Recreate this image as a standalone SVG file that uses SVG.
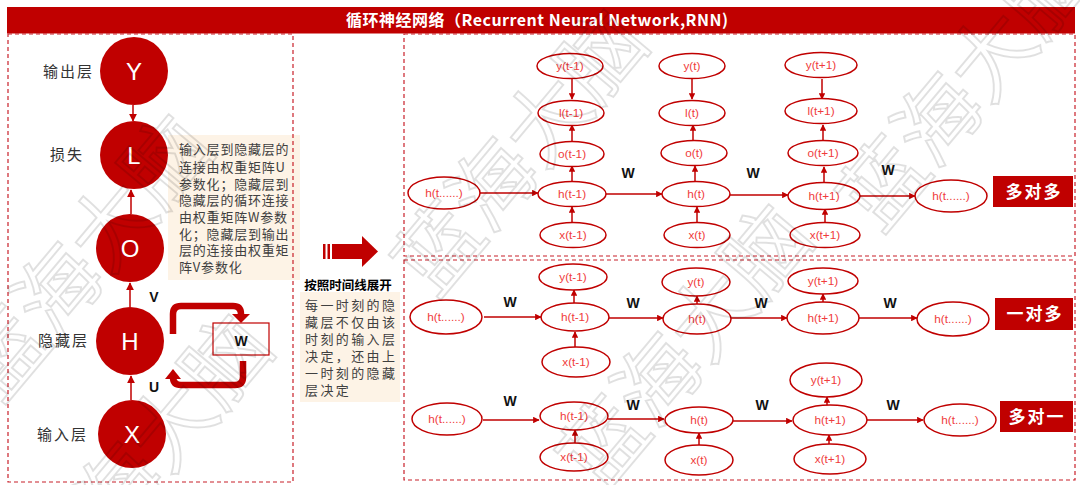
<svg xmlns="http://www.w3.org/2000/svg" width="1080" height="485" viewBox="0 0 1080 485">
<defs>
<style>
.frame{fill:none;stroke:#c8202a;stroke-width:1.2;stroke-dasharray:4 3}
.circ{fill:#c00000}
.cl{fill:#fff;font-family:"Liberation Sans",Arial,sans-serif;font-size:24px;text-anchor:middle}
.lbl{fill:#333;font-family:"Noto Sans CJK SC",sans-serif;font-size:15px;letter-spacing:2px}
.para{fill:#404040;font-family:"Noto Sans CJK SC",sans-serif;font-size:13px}
.el{fill:#fff;stroke:#c00000;stroke-width:1.5}
.et{fill:#f03c3c;font-family:"Liberation Sans",Arial,sans-serif;font-size:11.8px;text-anchor:middle}
.w{fill:#111;font-family:"Liberation Sans",Arial,sans-serif;font-size:14px;font-weight:bold;text-anchor:middle}
.ln{stroke:#c00000;stroke-width:1.5;fill:none}
.tag{fill:#c00000}
.tt{fill:#fff;font-family:"Noto Sans CJK SC",sans-serif;font-size:17px;font-weight:bold;text-anchor:middle;letter-spacing:2px}
.thick{fill:none;stroke:#c00000;stroke-width:6.5}
.wm{fill:none;stroke:#000;stroke-opacity:0.12;stroke-width:2;font-family:"Noto Sans CJK SC",sans-serif;font-size:84px}
</style>
<marker id="ah" viewBox="0 0 10 10" refX="9" refY="5" markerWidth="6.5" markerHeight="6.5" orient="auto" markerUnits="userSpaceOnUse">
<path d="M0,0 L10,5 L0,10 z" fill="#c00000"/>
</marker>
<marker id="ah2" viewBox="0 0 10 10" refX="9" refY="5" markerWidth="8" markerHeight="8" orient="auto" markerUnits="userSpaceOnUse">
<path d="M0,0 L10,5 L0,10 z" fill="#c00000"/>
</marker>
</defs>
<rect width="1080" height="485" fill="#fff"/>

<g id="title">
<rect x="7" y="7" width="1068" height="26.5" fill="#c00000"/>
<text x="537" y="26" fill="#fff" font-family="'Noto Sans CJK SC',sans-serif" font-size="16" font-weight="bold" text-anchor="middle" textLength="382">循环神经网络（Recurrent Neural Network,RNN)</text>
</g>

<rect x="168" y="135" width="132" height="145" fill="#fdf3e6"/>
<rect x="300" y="292" width="100" height="110" fill="#fdf3e6"/>

<g id="frames">
<rect class="frame" x="8" y="34" width="285" height="448"/>
<rect class="frame" x="404" y="34" width="671" height="222"/>
<rect class="frame" x="404" y="260" width="671" height="220"/>
</g>

<g id="left-connectors">
<line class="ln" x1="133" y1="105" x2="133" y2="121" marker-end="url(#ah2)"/>
<line class="ln" x1="131" y1="214" x2="131" y2="190" marker-end="url(#ah2)"/>
<line class="ln" x1="130" y1="307" x2="130" y2="283" marker-end="url(#ah2)"/>
<line class="ln" x1="131" y1="400" x2="131" y2="376" marker-end="url(#ah2)"/>
<path class="thick" d="M173,334 V314 Q173,306 181,306 H233 Q241,306 241,314 V316"/>
<polygon points="232,314 250,314 241,323" fill="#c00000"/>
<path class="thick" d="M243,361 V377 Q243,385 235,385 H181 Q173,385 173,377 V378"/>
<polygon points="165,379 181,379 173,369" fill="#c00000"/>
<text class="w" x="154" y="302">V</text>
<text class="w" x="154" y="392">U</text>
</g>
<g id="node-Y"><circle class="circ" cx="134" cy="71" r="34"/><text class="cl" x="134" y="80">Y</text><text class="lbl" x="43" y="77">输出层</text></g>
<g id="node-L"><circle class="circ" cx="134" cy="155" r="34"/><text class="cl" x="134" y="164">L</text><text class="lbl" x="50" y="160">损失</text></g>
<g id="node-O"><circle class="circ" cx="130" cy="248" r="34"/><text class="cl" x="130" y="257">O</text></g>
<g id="node-H"><circle class="circ" cx="130" cy="341" r="34"/><text class="cl" x="130" y="350">H</text><text class="lbl" x="38" y="346">隐藏层</text></g>
<g id="node-X"><circle class="circ" cx="132" cy="434" r="34"/><text class="cl" x="132" y="443">X</text><text class="lbl" x="37" y="440">输入层</text></g>
<g id="node-W"><rect x="213" y="323" width="56" height="32" fill="#fff" stroke="#c00000" stroke-width="1.2"/><text class="w" x="241" y="346">W</text></g>
<g id="left-note">
<text class="para" letter-spacing="0.8">
<tspan x="179" y="154">输入层到隐藏层的</tspan>
<tspan x="179" y="172">连接由权重矩阵U</tspan>
<tspan x="179" y="189">参数化；隐藏层到</tspan>
<tspan x="179" y="205">隐藏层的循环连接</tspan>
<tspan x="179" y="222">由权重矩阵W参数</tspan>
<tspan x="179" y="239">化；隐藏层到输出</tspan>
<tspan x="179" y="255">层的连接由权重矩</tspan>
<tspan x="179" y="272">阵V参数化</tspan>
</text>
</g>

<g id="mid-arrow">
<rect x="323" y="244" width="2.5" height="15" fill="#c00000"/>
<rect x="327.5" y="244" width="2.5" height="15" fill="#c00000"/>
<rect x="332" y="244" width="31" height="15" fill="#c00000"/>
<polygon points="362,236 378,251.5 362,267" fill="#c00000"/>
</g>
<g id="mid-note">
<text x="348" y="290" fill="#000" font-family="'Noto Sans CJK SC',sans-serif" font-size="12.5" font-weight="bold" text-anchor="middle">按照时间线展开</text>
<text class="para" letter-spacing="2.4">
<tspan x="305" y="310">每一时刻的隐</tspan>
<tspan x="305" y="327">藏层不仅由该</tspan>
<tspan x="305" y="344">时刻的输入层</tspan>
<tspan x="305" y="361">决定，还由上</tspan>
<tspan x="305" y="378">一时刻的隐藏</tspan>
<tspan x="305" y="395">层决定</tspan>
</text>
</g>

<g id="connectors">
<line class="ln" x1="572" y1="79" x2="572" y2="99" marker-end="url(#ah)"/>
<line class="ln" x1="572" y1="141" x2="572" y2="125" marker-end="url(#ah)"/>
<line class="ln" x1="572" y1="182" x2="572" y2="166" marker-end="url(#ah)"/>
<line class="ln" x1="572" y1="223" x2="572" y2="207" marker-end="url(#ah)"/>
<line class="ln" x1="692" y1="79" x2="692" y2="99" marker-end="url(#ah)"/>
<line class="ln" x1="693" y1="141" x2="693" y2="125" marker-end="url(#ah)"/>
<line class="ln" x1="695" y1="182" x2="695" y2="166" marker-end="url(#ah)"/>
<line class="ln" x1="697" y1="223" x2="697" y2="207" marker-end="url(#ah)"/>
<line class="ln" x1="822" y1="79" x2="822" y2="99" marker-end="url(#ah)"/>
<line class="ln" x1="823" y1="141" x2="823" y2="125" marker-end="url(#ah)"/>
<line class="ln" x1="824" y1="183" x2="824" y2="167" marker-end="url(#ah)"/>
<line class="ln" x1="825" y1="223" x2="825" y2="209" marker-end="url(#ah)"/>
<line class="ln" x1="480" y1="193" x2="538" y2="193" marker-end="url(#ah)"/>
<line class="ln" x1="606" y1="194" x2="662" y2="194" marker-end="url(#ah)"/>
<line class="ln" x1="730" y1="195" x2="788" y2="195" marker-end="url(#ah)"/>
<line class="ln" x1="860" y1="196" x2="915" y2="196" marker-end="url(#ah)"/>
<line class="ln" x1="484" y1="317" x2="541" y2="317" marker-end="url(#ah)"/>
<line class="ln" x1="609" y1="318" x2="663" y2="318" marker-end="url(#ah)"/>
<line class="ln" x1="731" y1="318" x2="787" y2="318" marker-end="url(#ah)"/>
<line class="ln" x1="859" y1="318" x2="917" y2="318" marker-end="url(#ah)"/>
<line class="ln" x1="575" y1="347" x2="575" y2="332" marker-end="url(#ah)"/>
<line class="ln" x1="574" y1="306" x2="574" y2="290" marker-end="url(#ah)"/>
<line class="ln" x1="697" y1="308" x2="697" y2="296" marker-end="url(#ah)"/>
<line class="ln" x1="823" y1="306" x2="823" y2="294" marker-end="url(#ah)"/>
<line class="ln" x1="483" y1="420" x2="539" y2="420" marker-end="url(#ah)"/>
<line class="ln" x1="608" y1="419" x2="664" y2="419" marker-end="url(#ah)"/>
<line class="ln" x1="733" y1="421" x2="792" y2="421" marker-end="url(#ah)"/>
<line class="ln" x1="867" y1="420" x2="923" y2="420" marker-end="url(#ah)"/>
<line class="ln" x1="575" y1="443" x2="575" y2="430" marker-end="url(#ah)"/>
<line class="ln" x1="699" y1="445" x2="699" y2="433" marker-end="url(#ah)"/>
<line class="ln" x1="829" y1="444" x2="829" y2="435" marker-end="url(#ah)"/>
<line class="ln" x1="827" y1="410" x2="827" y2="397" marker-end="url(#ah)"/>
</g>

<g id="w-labels">
<text class="w" x="628" y="178">W</text>
<text class="w" x="753" y="178">W</text>
<text class="w" x="888" y="175">W</text>
<text class="w" x="510" y="307">W</text>
<text class="w" x="633" y="308">W</text>
<text class="w" x="761" y="308">W</text>
<text class="w" x="890" y="308">W</text>
<text class="w" x="510" y="406">W</text>
<text class="w" x="633" y="410">W</text>
<text class="w" x="762" y="410">W</text>
<text class="w" x="893" y="410">W</text>
</g>

<g id="t-hl"><ellipse class="el" cx="444" cy="193" rx="36" ry="16"/><text class="et" x="444" y="197">h(t......)</text></g>
<g id="t-y1"><ellipse class="el" cx="570" cy="66" rx="33" ry="12.5"/><text class="et" x="570" y="70">y(t-1)</text></g>
<g id="t-l1"><ellipse class="el" cx="571" cy="113" rx="33" ry="12.5"/><text class="et" x="571" y="117">l(t-1)</text></g>
<g id="t-o1"><ellipse class="el" cx="572" cy="154" rx="32" ry="12.5"/><text class="et" x="572" y="158">o(t-1)</text></g>
<g id="t-h1"><ellipse class="el" cx="572" cy="194" rx="34" ry="12.5"/><text class="et" x="572" y="198">h(t-1)</text></g>
<g id="t-x1"><ellipse class="el" cx="573" cy="235" rx="33" ry="12.5"/><text class="et" x="573" y="239">x(t-1)</text></g>
<g id="t-y2"><ellipse class="el" cx="692" cy="66" rx="33" ry="12.5"/><text class="et" x="692" y="70">y(t)</text></g>
<g id="t-l2"><ellipse class="el" cx="692" cy="113" rx="33" ry="12.5"/><text class="et" x="692" y="117">l(t)</text></g>
<g id="t-o2"><ellipse class="el" cx="694" cy="153" rx="33" ry="12.5"/><text class="et" x="694" y="157">o(t)</text></g>
<g id="t-h2"><ellipse class="el" cx="696" cy="194" rx="34" ry="12.5"/><text class="et" x="696" y="198">h(t)</text></g>
<g id="t-x2"><ellipse class="el" cx="697" cy="235" rx="33" ry="12.5"/><text class="et" x="697" y="239">x(t)</text></g>
<g id="t-y3"><ellipse class="el" cx="821" cy="65" rx="36" ry="12.5"/><text class="et" x="821" y="69">y(t+1)</text></g>
<g id="t-l3"><ellipse class="el" cx="821" cy="111" rx="36" ry="12.5"/><text class="et" x="821" y="115">l(t+1)</text></g>
<g id="t-o3"><ellipse class="el" cx="823" cy="153" rx="35" ry="12.5"/><text class="et" x="823" y="157">o(t+1)</text></g>
<g id="t-h3"><ellipse class="el" cx="824" cy="196" rx="36" ry="13.5"/><text class="et" x="824" y="200">h(t+1)</text></g>
<g id="t-x3"><ellipse class="el" cx="825" cy="235" rx="35" ry="12.5"/><text class="et" x="825" y="239">x(t+1)</text></g>
<g id="t-hr"><ellipse class="el" cx="951" cy="196" rx="36" ry="16"/><text class="et" x="951" y="200">h(t......)</text></g>
<g id="tag-mm"><rect class="tag" x="993" y="176" width="80" height="31"/><text class="tt" x="1034" y="198">多对多</text></g>

<g id="m-hl"><ellipse class="el" cx="446" cy="317" rx="36" ry="17"/><text class="et" x="446" y="321">h(t......)</text></g>
<g id="m-y1"><ellipse class="el" cx="573" cy="277" rx="34" ry="13"/><text class="et" x="573" y="281">y(t-1)</text></g>
<g id="m-h1"><ellipse class="el" cx="575" cy="317" rx="34" ry="14"/><text class="et" x="575" y="321">h(t-1)</text></g>
<g id="m-x1"><ellipse class="el" cx="576" cy="362" rx="34" ry="15"/><text class="et" x="576" y="366">x(t-1)</text></g>
<g id="m-y2"><ellipse class="el" cx="696" cy="282" rx="34" ry="14"/><text class="et" x="696" y="286">y(t)</text></g>
<g id="m-h2"><ellipse class="el" cx="697" cy="319" rx="34" ry="15"/><text class="et" x="697" y="323">h(t)</text></g>
<g id="m-y3"><ellipse class="el" cx="823" cy="281" rx="35" ry="13"/><text class="et" x="823" y="285">y(t+1)</text></g>
<g id="m-h3"><ellipse class="el" cx="823" cy="318" rx="36" ry="16"/><text class="et" x="823" y="322">h(t+1)</text></g>
<g id="m-hr"><ellipse class="el" cx="953" cy="319" rx="36" ry="17"/><text class="et" x="953" y="323">h(t......)</text></g>
<g id="tag-om"><rect class="tag" x="995" y="298" width="78" height="32"/><text class="tt" x="1035" y="320">一对多</text></g>

<g id="b-hl"><ellipse class="el" cx="447" cy="419" rx="35" ry="16"/><text class="et" x="447" y="423">h(t......)</text></g>
<g id="b-h1"><ellipse class="el" cx="574" cy="416" rx="34" ry="14"/><text class="et" x="574" y="420">h(t-1)</text></g>
<g id="b-x1"><ellipse class="el" cx="574" cy="457" rx="34" ry="14"/><text class="et" x="574" y="461">x(t-1)</text></g>
<g id="b-h2"><ellipse class="el" cx="699" cy="420" rx="34" ry="13"/><text class="et" x="699" y="424">h(t)</text></g>
<g id="b-x2"><ellipse class="el" cx="699" cy="460" rx="34" ry="15"/><text class="et" x="699" y="464">x(t)</text></g>
<g id="b-y3"><ellipse class="el" cx="826" cy="380" rx="36" ry="17"/><text class="et" x="826" y="384">y(t+1)</text></g>
<g id="b-h3"><ellipse class="el" cx="830" cy="420" rx="37" ry="15"/><text class="et" x="830" y="424">h(t+1)</text></g>
<g id="b-x3"><ellipse class="el" cx="830" cy="459" rx="36" ry="15"/><text class="et" x="830" y="463">x(t+1)</text></g>
<g id="b-hr"><ellipse class="el" cx="960" cy="420" rx="36" ry="16"/><text class="et" x="960" y="424">h(t......)</text></g>
<g id="tag-mo"><rect class="tag" x="1000" y="401" width="73" height="31"/><text class="tt" x="1037" y="423">多对一</text></g>

<g id="watermark">
<text class="wm" transform="translate(0,405) rotate(-50)">蓝海大脑</text>
<text class="wm" transform="translate(435,300) rotate(-50)">蓝海大脑</text>
<text class="wm" transform="translate(600,495) rotate(-50)">蓝海大脑</text>
<text class="wm" transform="translate(880,235) rotate(-50)">蓝海大脑</text>
<text class="wm" transform="translate(60,605) rotate(-50)">蓝海大脑</text>
</g>
</svg>
